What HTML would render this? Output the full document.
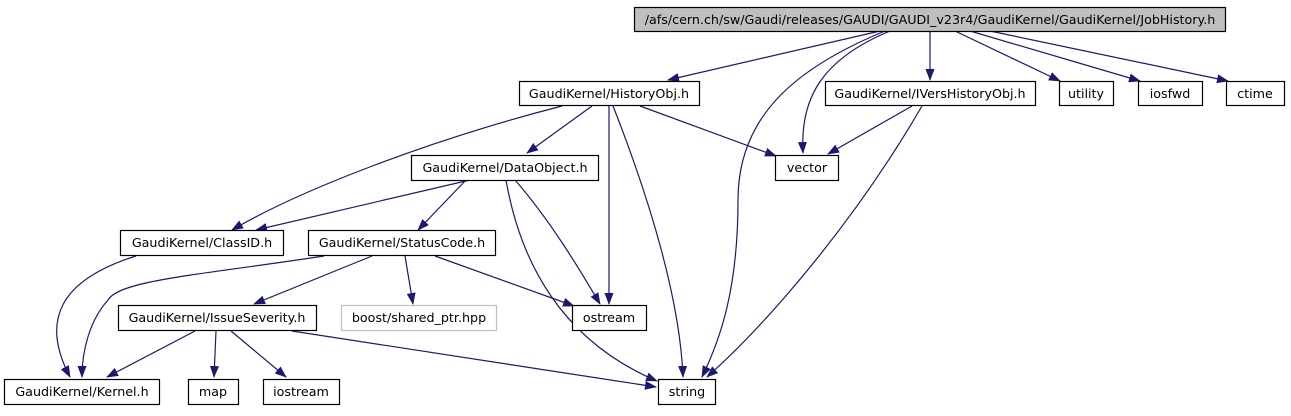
<!DOCTYPE html>
<html><head><meta charset="utf-8"><style>
html,body{margin:0;padding:0;background:#fff;}
svg text{font-family:"DejaVu Sans","Liberation Sans",sans-serif;font-size:12.7px;fill:#000;}
</style></head><body>
<svg width="1291" height="411" viewBox="0 0 1291 411" xmlns="http://www.w3.org/2000/svg">
<defs><marker id="a" markerWidth="12" markerHeight="9" refX="11" refY="4.5" orient="auto" markerUnits="userSpaceOnUse"><path d="M0,0 L12,4.5 L0,9 z" fill="#191970"/></marker></defs>
<g fill="none" stroke="#191970" stroke-width="1.2" marker-end="url(#a)">
<path d="M880,31 L668,80"/>
<path d="M885,31 C790,70 738,120 738,200 C738,290 720,340 702,377"/>
<path d="M890,31 C820,60 800,100 803,153"/>
<path d="M930,31 L930,80"/>
<path d="M955,31 L1060,81"/>
<path d="M970,31 L1140,81"/>
<path d="M990,31 L1228,81"/>
<path d="M562,106 C430,140 300,190 232,230"/>
<path d="M592,106 L527,153"/>
<path d="M609,106 L609,304"/>
<path d="M613,106 C650,200 680,300 683,377"/>
<path d="M640,106 L776,156"/>
<path d="M912,106 L828,154"/>
<path d="M922,106 C850,230 760,330 707,377"/>
<path d="M470,180 L256,230"/>
<path d="M466,180 L418,230"/>
<path d="M515,180 C550,220 580,270 600,304"/>
<path d="M506,180 C520,260 560,340 657,381"/>
<path d="M136,256 C60,280 40,320 70,377"/>
<path d="M324,256 C200,275 120,280 108,300 C90,320 82,350 82,377"/>
<path d="M372,256 L254,304"/>
<path d="M405,256 L413,304"/>
<path d="M435,256 L574,306"/>
<path d="M195,331 L107,377"/>
<path d="M216,331 L214,377"/>
<path d="M231,331 L286,377"/>
<path d="M292,331 L656,387"/>
</g>
<g stroke-width="1.2">
<rect x="634.5" y="7.5" width="591" height="24" fill="#bfbfbf" stroke="#000"/>
<rect x="519.5" y="81.5" width="180" height="24" fill="#fff" stroke="#000"/>
<rect x="825.5" y="81.5" width="210" height="24" fill="#fff" stroke="#000"/>
<rect x="1059.5" y="81.5" width="54" height="24" fill="#fff" stroke="#000"/>
<rect x="1138.5" y="81.5" width="64" height="24" fill="#fff" stroke="#000"/>
<rect x="1226.5" y="81.5" width="58" height="24" fill="#fff" stroke="#000"/>
<rect x="411.5" y="155.5" width="187" height="25" fill="#fff" stroke="#000"/>
<rect x="775.5" y="155.5" width="63" height="25" fill="#fff" stroke="#000"/>
<rect x="120.5" y="230.5" width="163" height="25" fill="#fff" stroke="#000"/>
<rect x="308.5" y="230.5" width="187" height="25" fill="#fff" stroke="#000"/>
<rect x="118.5" y="305.5" width="198" height="25" fill="#fff" stroke="#000"/>
<rect x="341.5" y="305.5" width="155" height="25" fill="#fff" stroke="#bfbfbf"/>
<rect x="572.5" y="305.5" width="74" height="25" fill="#fff" stroke="#000"/>
<rect x="4.5" y="379.5" width="155" height="25" fill="#fff" stroke="#000"/>
<rect x="188.5" y="379.5" width="50" height="25" fill="#fff" stroke="#000"/>
<rect x="263.5" y="379.5" width="76" height="25" fill="#fff" stroke="#000"/>
<rect x="658.5" y="379.5" width="57" height="25" fill="#fff" stroke="#000"/>
</g>
<g text-anchor="middle">
<text x="930" y="24">/afs/cern.ch/sw/Gaudi/releases/GAUDI/GAUDI_v23r4/GaudiKernel/GaudiKernel/JobHistory.h</text>
<text x="609" y="98">GaudiKernel/HistoryObj.h</text>
<text x="930" y="98">GaudiKernel/IVersHistoryObj.h</text>
<text x="1086" y="98">utility</text>
<text x="1170" y="98">iosfwd</text>
<text x="1255" y="98">ctime</text>
<text x="505" y="172">GaudiKernel/DataObject.h</text>
<text x="807" y="172">vector</text>
<text x="202" y="247">GaudiKernel/ClassID.h</text>
<text x="402" y="247">GaudiKernel/StatusCode.h</text>
<text x="217" y="322">GaudiKernel/IssueSeverity.h</text>
<text x="419" y="322">boost/shared_ptr.hpp</text>
<text x="609" y="322">ostream</text>
<text x="82" y="396">GaudiKernel/Kernel.h</text>
<text x="213" y="396">map</text>
<text x="301" y="396">iostream</text>
<text x="687" y="396">string</text>
</g>
</svg>
</body></html>
